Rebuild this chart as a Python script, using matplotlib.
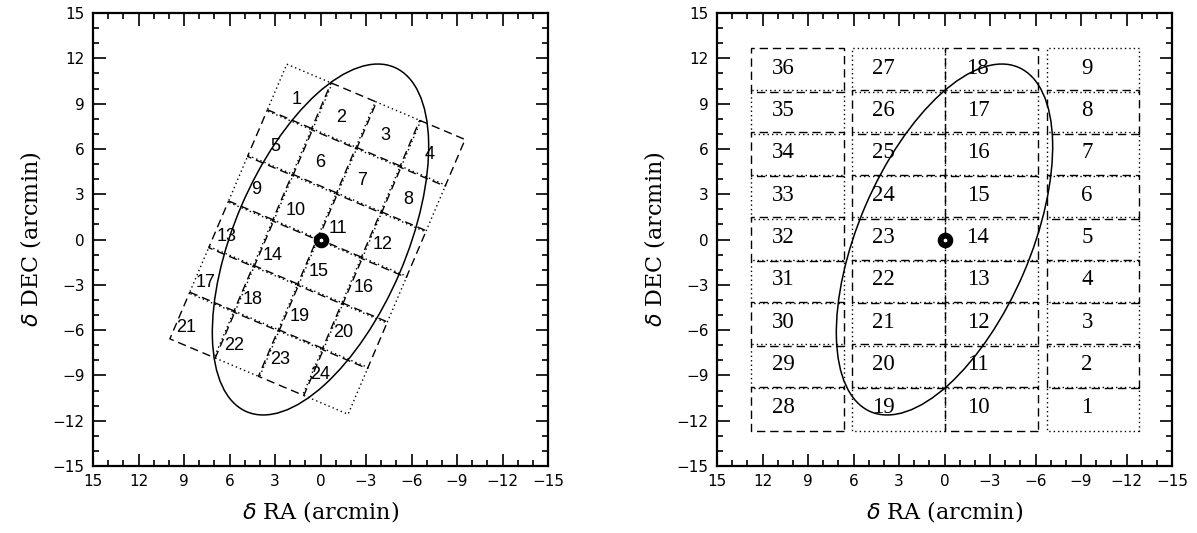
import numpy as np
import matplotlib
matplotlib.use("Agg")
import matplotlib.pyplot as plt
from matplotlib.patches import Ellipse, Polygon
from matplotlib.ticker import MultipleLocator

# --- left panel: tilted mosaic of 24 fields (centres in arcmin, dRA, dDEC)
left_ids = list(range(1, 25))
left_ra = [1.38, -1.54, -4.46, -7.38,
           2.66, -0.26, -3.18, -6.10,
           3.94, 1.02, -1.90, -4.82,
           5.22, 2.30, -0.62, -3.54,
           6.50, 3.58, 0.66, -2.26,
           7.78, 4.86, 1.94, -0.98]
left_dec = [9.43, 8.19, 6.95, 5.71,
            6.41, 5.17, 3.93, 2.69,
            3.39, 2.15, 0.91, -0.33,
            0.37, -0.87, -2.11, -3.35,
            -2.65, -3.89, -5.13, -6.37,
            -5.67, -6.91, -8.15, -9.39]
# where the numbers sit
left_lab_ra = [1.55, -1.35, -4.25, -7.2, 3.0, 0.04, -2.73, -5.77,
               4.25, 1.62, -1.15, -4.12, 6.17, 3.13, 0.1, -2.86,
               7.55, 4.45, 1.35, -1.48, 8.87, 5.7, 2.67, 0.04]
left_lab_dec = [9.24, 8.05, 6.92, 5.6, 6.19, 5.07, 3.94, 2.62,
                3.28, 1.95, 0.76, -0.36, 0.17, -1.03, -2.15, -3.21,
                -2.88, -4.0, -5.07, -6.19, -5.86, -6.99, -7.98, -8.97]
left_w, left_h, left_pa = 3.25, 3.36, 23.0   # slightly larger than the spacing -> overlaps

# --- right panel: 4 columns x 9 rows of fields
col_ra = [-9.8, -3.1, 3.05, 9.7]          # fields 1-9, 10-18, 19-27, 28-36
row_dec = [-11.2, -8.39, -5.59, -2.78, 0.03, 2.83, 5.64, 8.44, 11.25]
right_w, right_h = 6.1, 2.9

# galaxy ellipse
ell_a, ell_b, ell_pa = 12.4, 5.67, 23.1

DASH = (0, (6, 3.5))
DOT = (0, (1, 2.2))


def style_axes(ax):
    ax.set_xlim(15, -15)
    ax.set_ylim(-15, 15)
    ax.xaxis.set_major_locator(MultipleLocator(3))
    ax.yaxis.set_major_locator(MultipleLocator(3))
    ax.xaxis.set_minor_locator(MultipleLocator(1))
    ax.yaxis.set_minor_locator(MultipleLocator(1))
    ax.tick_params(which='both', direction='in', top=True, right=True,
                   width=1.2, labelsize=11, pad=6)
    ax.tick_params(which='major', length=9)
    ax.tick_params(which='minor', length=4.5)
    for s in ax.spines.values():
        s.set_linewidth(1.6)
    ax.set_xlabel(r'$\delta$ RA (arcmin)', family='DejaVu Serif', fontsize=16, labelpad=7)
    ax.set_ylabel(r'$\delta$ DEC (arcmin)', family='DejaVu Serif', fontsize=16, labelpad=7)
    ax.add_patch(Ellipse((0, 0), 2 * ell_a, 2 * ell_b, angle=90 + ell_pa,
                         fill=False, lw=1.1, color='black'))
    ax.plot(0, 0, 'o', ms=7, mfc='white', mec='black', mew=4.2, zorder=5)


fig = plt.figure(figsize=(11.97, 5.33), dpi=100)
ax1 = fig.add_axes([93 / 1197, 67 / 533, 455 / 1197, 453 / 533])
ax2 = fig.add_axes([717 / 1197, 67 / 533, 455 / 1197, 453 / 533])

# left: rotated fields, checkerboard of dotted / dashed outlines
t = np.radians(left_pa)
rdir = np.array([-np.cos(t), -np.sin(t)])
cdir = np.array([np.sin(t), -np.cos(t)])
for k, n in enumerate(left_ids):
    c = np.array([left_ra[k], left_dec[k]])
    corners = [c + sx * left_w / 2 * rdir + sy * left_h / 2 * cdir
               for sx, sy in [(-1, -1), (1, -1), (1, 1), (-1, 1)]]
    i, j = divmod(n - 1, 4)
    ls = DASH if (i + j) % 2 else DOT
    ax1.add_patch(Polygon(corners, closed=True, fill=False, lw=1.0,
                          linestyle=ls, color='black'))
    ax1.text(left_lab_ra[k], left_lab_dec[k], str(n), ha='center', va='center',
             fontsize=13, family='Liberation Sans')
style_axes(ax1)

# right: columns of boxes
lab_dx = [0.4, 0.9, 1.0, 0.95]
for ci, ra in enumerate(col_ra):
    for ri, dec in enumerate(row_dec):
        n = ci * 9 + ri + 1
        ls = DASH if n % 2 == 0 else DOT
        corners = [(ra - right_w / 2, dec - right_h / 2), (ra + right_w / 2, dec - right_h / 2),
                   (ra + right_w / 2, dec + right_h / 2), (ra - right_w / 2, dec + right_h / 2)]
        ax2.add_patch(Polygon(corners, closed=True, fill=False, lw=1.0,
                              linestyle=ls, color='black'))
        ax2.text(ra + lab_dx[ci], dec + 0.1, str(n), ha='center', va='center',
                 fontsize=16.5, family='Liberation Serif')
style_axes(ax2)

fig.savefig('out.png', dpi=100)
